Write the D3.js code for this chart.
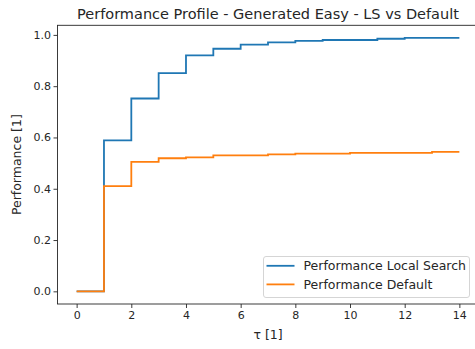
<!DOCTYPE html>
<html lang="en">
<head>
    <meta charset="UTF-8">
    <title>Performance Profile</title>
    <script src="https://d3js.org/d3.v7.min.js"></script>
    <style>
        html, body {
            margin: 0;
            background: #fff;
        }
        text {
            font-family: "DejaVu Sans", sans-serif;
            fill: #262626;
        }
    </style>
</head>
<body>
<script>

    var tau = [0, 1, 2, 3, 4, 5, 6, 7, 8, 9, 10, 11, 12, 13, 14];
    var perfLocalSearch = [0, 0.589, 0.752, 0.851, 0.920, 0.946, 0.962, 0.971, 0.977, 0.980, 0.980, 0.985, 0.988, 0.988, 0.988];
    var perfDefault = [0, 0.410, 0.505, 0.519, 0.522, 0.530, 0.530, 0.534, 0.537, 0.537, 0.540, 0.540, 0.540, 0.544, 0.544];
    var xTicks = [0, 2, 4, 6, 8, 10, 12, 14];
    var yTicks = [0, 0.2, 0.4, 0.6, 0.8, 1.0];
    var seriesNames = ["Performance Local Search", "Performance Default"];
    var colors = ["#1f77b4", "#ff7f0e"];

    var width = 475, height = 349;
    var margin = {left: 57.5, right: -3.5, top: 25.3, bottom: 45};

    var svg = d3.select("body").append("svg")
        .attr("width", width).attr("height", height);

    // matplotlib style 5% padding on both axes
    var xExt = d3.extent(tau), xPad = (xExt[1] - xExt[0]) * 0.05;
    var allY = perfLocalSearch.concat(perfDefault);
    var yExt = d3.extent(allY), yPad = (yExt[1] - yExt[0]) * 0.05;

    var x = d3.scaleLinear()
        .domain([xExt[0] - xPad, xExt[1] + xPad])
        .range([margin.left, width - margin.right]);
    var y = d3.scaleLinear()
        .domain([yExt[0] - yPad, yExt[1] + yPad])
        .range([height - margin.bottom, margin.top]);

    var plotH = height - margin.bottom - margin.top;
    var plotW = width - margin.right - margin.left;

    var line = d3.line()
        .x(function (d) { return x(d[0]); })
        .y(function (d) { return y(d[1]); })
        .curve(d3.curveStepAfter);

    var series = [perfLocalSearch, perfDefault];
    series.forEach(function (vals, i) {
        svg.append("path")
            .attr("d", line(tau.map(function (t, j) { return [t, vals[j]]; })))
            .attr("fill", "none")
            .attr("stroke", colors[i])
            .attr("stroke-width", 1.8)
            .attr("stroke-linejoin", "miter");
    });

    // axes
    var xAxis = d3.axisBottom(x).tickValues(xTicks).tickSize(4).tickPadding(3)
        .tickFormat(d3.format("d"));
    var yAxis = d3.axisLeft(y).tickValues(yTicks).tickSize(4).tickPadding(2.5)
        .tickFormat(d3.format(".1f"));

    var gx = svg.append("g")
        .attr("transform", "translate(0," + (height - margin.bottom) + ")")
        .call(xAxis);
    var gy = svg.append("g")
        .attr("transform", "translate(" + margin.left + ",0)")
        .call(yAxis);
    [gx, gy].forEach(function (g) {
        g.select(".domain").remove();
        g.selectAll(".tick line").attr("stroke", "#262626").attr("stroke-width", 0.9);
        g.selectAll(".tick text").attr("font-size", 11).attr("font-family", "DejaVu Sans").attr("fill", "#262626");
    });

    // frame (right spine falls outside the image)
    svg.append("rect")
        .attr("x", margin.left).attr("y", margin.top)
        .attr("width", plotW).attr("height", plotH)
        .attr("fill", "none").attr("stroke", "#262626").attr("stroke-width", 0.9);

    svg.append("text")
        .attr("x", margin.left + plotW / 2).attr("y", 18.5)
        .attr("text-anchor", "middle").attr("font-size", 14.5)
        .text("Performance Profile - Generated Easy - LS vs Default");

    svg.append("text")
        .attr("x", margin.left + plotW / 2).attr("y", 339)
        .attr("text-anchor", "middle").attr("font-size", 12.5)
        .text("τ [1]");

    svg.append("text")
        .attr("transform", "translate(21," + (margin.top + plotH / 2) + ") rotate(-90)")
        .attr("text-anchor", "middle").attr("font-size", 12.5)
        .text("Performance [1]");

    // legend
    var lg = svg.append("g").attr("transform", "translate(263.5,256.5)");
    lg.append("rect")
        .attr("width", 206).attr("height", 41).attr("rx", 2.5)
        .attr("fill", "#fff").attr("fill-opacity", 0.8)
        .attr("stroke", "#d0d0d0").attr("stroke-width", 0.9);
    seriesNames.forEach(function (name, i) {
        var yy = 9.3 + i * 18.6;
        lg.append("line")
            .attr("x1", 3).attr("x2", 31).attr("y1", yy).attr("y2", yy)
            .attr("stroke", colors[i]).attr("stroke-width", 1.8);
        lg.append("text")
            .attr("x", 40).attr("y", yy + 4.5).attr("font-size", 12.5)
            .text(name);
    });

</script>
</body>
</html>
